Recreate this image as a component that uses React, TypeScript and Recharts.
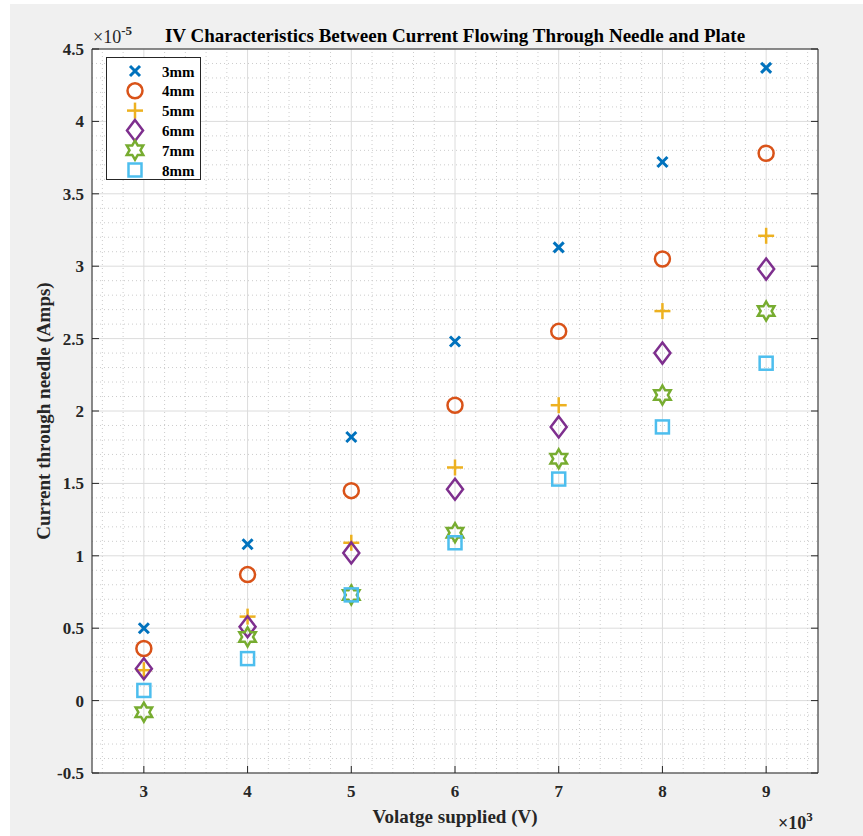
import React from 'react';
import {
  ScatterChart,
  Scatter,
  XAxis,
  YAxis,
  CartesianGrid,
  ReferenceLine,
} from 'recharts';

// voltage in kV (axis shows x10^3), current in units of 1e-5 A
const voltage = [3, 4, 5, 6, 7, 8, 9];
const current3mm = [0.5, 1.08, 1.82, 2.48, 3.13, 3.72, 4.37];
const current4mm = [0.36, 0.87, 1.45, 2.04, 2.55, 3.05, 3.78];
const current5mm = [0.21, 0.58, 1.09, 1.61, 2.04, 2.69, 3.21];
const current6mm = [0.22, 0.51, 1.02, 1.46, 1.89, 2.4, 2.98];
const current7mm = [-0.08, 0.44, 0.73, 1.16, 1.67, 2.11, 2.69];
const current8mm = [0.07, 0.29, 0.73, 1.09, 1.53, 1.89, 2.33];

const xTicks = [3, 4, 5, 6, 7, 8, 9];
const yTicks = [-0.5, 0, 0.5, 1, 1.5, 2, 2.5, 3, 3.5, 4, 4.5];

const xMinor: number[] = [];
for (let i = 13; i <= 47; i++) if (i % 5 !== 0) xMinor.push(i / 5);
const yMinor: number[] = [];
for (let i = -4; i <= 44; i++) if (i % 5 !== 0) yMinor.push(i / 10);

const series = [
  { name: '3mm', values: current3mm, color: '#0072BD', marker: 'x' },
  { name: '4mm', values: current4mm, color: '#D95319', marker: 'o' },
  { name: '5mm', values: current5mm, color: '#EDB120', marker: '+' },
  { name: '6mm', values: current6mm, color: '#7E2F8E', marker: 'd' },
  { name: '7mm', values: current7mm, color: '#77AC30', marker: 'h' },
  { name: '8mm', values: current8mm, color: '#4DBEEE', marker: 's' },
];

const FONT = "'Liberation Serif', 'Times New Roman', serif";
const AXIS = '#262626';

const Marker = ({ type, color, cx, cy }: any) => {
  const sw = 2.5;
  if (type === 'x') {
    return (
      <g stroke={color} strokeWidth={3}>
        <line x1={cx - 5} y1={cy - 5} x2={cx + 5} y2={cy + 5} />
        <line x1={cx - 5} y1={cy + 5} x2={cx + 5} y2={cy - 5} />
      </g>
    );
  }
  if (type === 'o') {
    return <circle cx={cx} cy={cy} r={7.5} fill="none" stroke={color} strokeWidth={sw} />;
  }
  if (type === '+') {
    return (
      <g stroke={color} strokeWidth={sw}>
        <line x1={cx - 8} y1={cy} x2={cx + 8} y2={cy} />
        <line x1={cx} y1={cy - 8} x2={cx} y2={cy + 8} />
      </g>
    );
  }
  if (type === 'd') {
    const pts = `${cx},${cy - 10.5} ${cx + 8},${cy} ${cx},${cy + 10.5} ${cx - 8},${cy}`;
    return <polygon points={pts} fill="none" stroke={color} strokeWidth={sw} strokeLinejoin="miter" />;
  }
  if (type === 'h') {
    const R = 9.5;
    const r = R / Math.sqrt(3);
    const pts: string[] = [];
    for (let k = 0; k < 12; k++) {
      const a = -Math.PI / 2 + (k * Math.PI) / 6;
      const rad = k % 2 === 0 ? R : r;
      pts.push(`${cx + rad * Math.cos(a)},${cy + rad * Math.sin(a)}`);
    }
    return <polygon points={pts.join(' ')} fill="none" stroke={color} strokeWidth={sw} />;
  }
  return <rect x={cx - 6.5} y={cy - 6.5} width={13} height={13} fill="none" stroke={color} strokeWidth={sw} />;
};

const BottomTick = ({ x, y, payload }: any) => (
  <g>
    <line x1={x} y1={y} x2={x} y2={y - 7} stroke={AXIS} />
    <text x={x} y={y + 24} textAnchor="middle" fontFamily={FONT} fontWeight="bold" fontSize={17} fill={AXIS}>
      {payload.value}
    </text>
  </g>
);

const LeftTick = ({ x, y, payload }: any) => (
  <g>
    <line x1={x} y1={y} x2={x + 7} y2={y} stroke={AXIS} />
    <text x={x - 8} y={y + 6} textAnchor="end" fontFamily={FONT} fontWeight="bold" fontSize={17} fill={AXIS}>
      {payload.value}
    </text>
  </g>
);

const TopTick = ({ x, y }: any) => <line x1={x} y1={y} x2={x} y2={y + 7} stroke={AXIS} />;
const RightTick = ({ x, y }: any) => <line x1={x} y1={y} x2={x - 7} y2={y} stroke={AXIS} />;

export default function App() {
  return (
    <div style={{ position: 'absolute', left: 0, top: 0, width: 863, height: 836, background: '#ffffff' }}>
      <div style={{ position: 'absolute', left: 10, top: 4, width: 853, height: 832, background: '#f0f0f0' }} />
      <div style={{ position: 'absolute', left: 0, top: 0 }}>
        <ScatterChart width={863} height={836} margin={{ top: 48, right: 44, bottom: 0, left: 0 }}>
          <CartesianGrid stroke="#dcdcdc" fill="#ffffff" fillOpacity={1} />
          {xMinor.map((v) => (
            <ReferenceLine key={'xm' + v} x={v} stroke="#cccccc" strokeDasharray="1 3" />
          ))}
          {yMinor.map((v) => (
            <ReferenceLine key={'ym' + v} y={v} stroke="#cccccc" strokeDasharray="1 3" />
          ))}
          <XAxis
            dataKey="x"
            type="number"
            domain={[2.5, 9.5]}
            ticks={xTicks}
            allowDataOverflow
            height={63}
            tickSize={0}
            tickMargin={0}
            tickLine={false}
            axisLine={{ stroke: AXIS }}
            tick={<BottomTick />}
            interval={0}
          />
          <XAxis
            xAxisId="top"
            orientation="top"
            type="number"
            domain={[2.5, 9.5]}
            ticks={xTicks}
            allowDataOverflow
            height={1}
            tickSize={0}
            tickMargin={0}
            tickLine={false}
            axisLine={{ stroke: AXIS }}
            tick={<TopTick />}
            interval={0}
          />
          <YAxis
            dataKey="y"
            type="number"
            domain={[-0.5, 4.5]}
            ticks={yTicks}
            allowDataOverflow
            width={92}
            tickSize={0}
            tickMargin={0}
            tickLine={false}
            axisLine={{ stroke: AXIS }}
            tick={<LeftTick />}
            interval={0}
          />
          <YAxis
            yAxisId="right"
            orientation="right"
            type="number"
            domain={[-0.5, 4.5]}
            ticks={yTicks}
            allowDataOverflow
            width={1}
            tickSize={0}
            tickMargin={0}
            tickLine={false}
            axisLine={{ stroke: AXIS }}
            tick={<RightTick />}
            interval={0}
          />
          {series.map((s) => (
            <Scatter
              key={s.name}
              name={s.name}
              data={voltage.map((v, i) => ({ x: v, y: s.values[i] }))}
              isAnimationActive={false}
              shape={(p: any) => <Marker type={s.marker} color={s.color} cx={p.cx} cy={p.cy} />}
            />
          ))}
        </ScatterChart>
      </div>

      {/* legend */}
      <div
        style={{
          position: 'absolute',
          left: 106,
          top: 57,
          width: 93,
          height: 121,
          background: '#ffffff',
          border: `1px solid ${AXIS}`,
        }}
      >
        <svg width={93} height={121} style={{ display: 'block' }}>
          {series.map((s, i) => (
            <g key={s.name}>
              <Marker type={s.marker} color={s.color} cx={28} cy={13 + i * 19.8} />
              <text
                x={55}
                y={18.5 + i * 19.8}
                fontFamily={FONT}
                fontWeight="bold"
                fontSize={15}
                fill="#000"
              >
                {s.name}
              </text>
            </g>
          ))}
        </svg>
      </div>

      {/* titles and exponent labels */}
      <svg width={863} height={836} style={{ position: 'absolute', left: 0, top: 0, pointerEvents: 'none' }}>
        <text x={455} y={42} textAnchor="middle" fontFamily={FONT} fontWeight="bold" fontSize={19} fill="#000">
          IV Characteristics Between Current Flowing Through Needle and Plate
        </text>
        <text x={455} y={823} textAnchor="middle" fontFamily={FONT} fontWeight="bold" fontSize={19} fill={AXIS}>
          Volatge supplied (V)
        </text>
        <text
          x={50}
          y={411}
          textAnchor="middle"
          transform="rotate(-90 50 411)"
          fontFamily={FONT}
          fontWeight="bold"
          fontSize={19}
          fill={AXIS}
        >
          Current through needle (Amps)
        </text>
        <text x={93} y={43} fontFamily={FONT} fontSize={18} fill={AXIS}>
          ×10
          <tspan dy={-8} fontSize={13} fontWeight="bold">-5</tspan>
        </text>
        <text x={778} y={829} fontFamily={FONT} fontSize={18} fontWeight="bold" fill={AXIS}>
          ×10
          <tspan dy={-8} fontSize={13}>3</tspan>
        </text>
      </svg>
    </div>
  );
}
